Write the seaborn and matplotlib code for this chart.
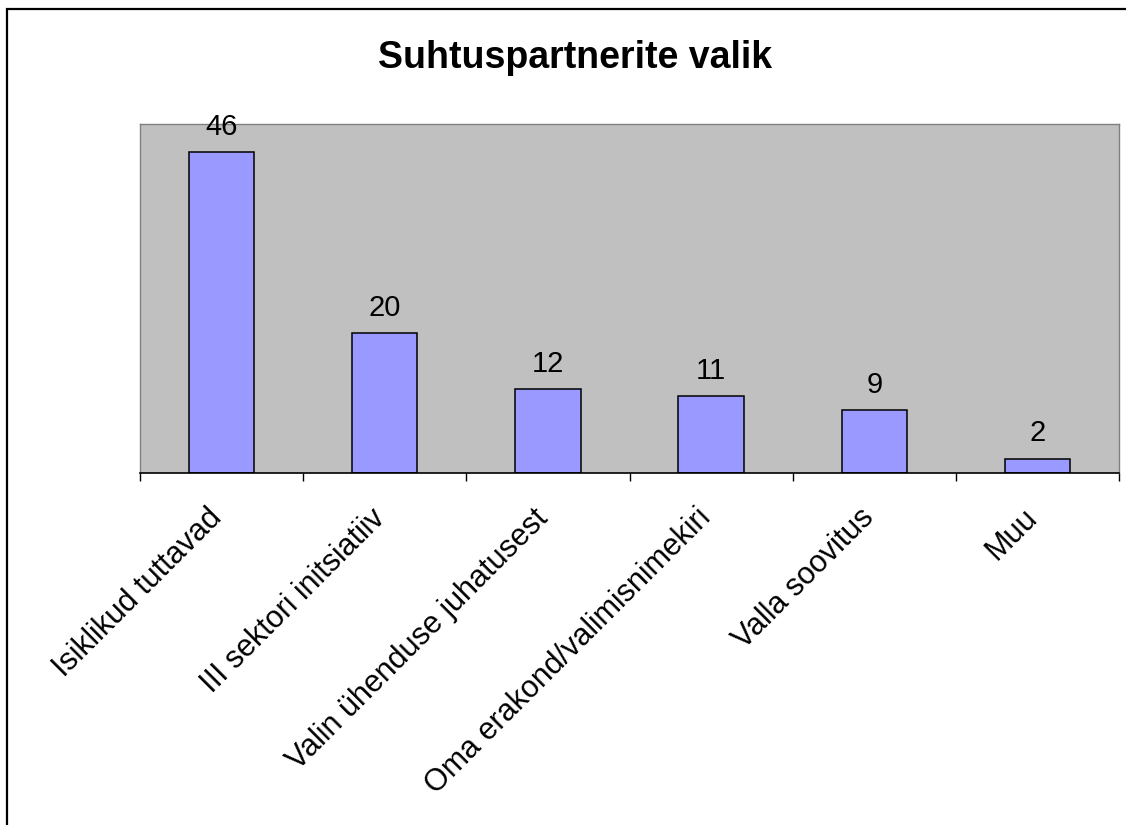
import numpy as np
import pandas as pd
import seaborn as sns
import matplotlib.pyplot as plt
import matplotlib.transforms as mtransforms
from matplotlib.patches import Rectangle

# =============================================================================
# Data
# =============================================================================

categories = [
    "Isiklikud tuttavad",
    "III sektori initsiatiiv",
    "Valin ühenduse juhatusest",
    "Oma erakond/valimisnimekiri",
    "Valla soovitus",
    "Muu",
]
counts = [46, 20, 12, 11, 9, 2]
title = "Suhtuspartnerite valik"

df = pd.DataFrame({"Kategooria": categories, "Arv": counts})

# =============================================================================
# Plot
# =============================================================================

sns.set_style("white")
plt.rcParams["font.family"] = ["Liberation Sans", "DejaVu Sans"]
plt.rcParams["text.color"] = "black"
plt.rcParams["xtick.color"] = "black"
plt.rcParams["xtick.labelcolor"] = "black"

fig = plt.figure(figsize=(11.26, 8.25), dpi=100)
ax = fig.add_axes([140 / 1126, 1 - 472.5 / 825, 979 / 1126, 348.5 / 825])

sns.barplot(
    data=df,
    x="Kategooria",
    y="Arv",
    order=categories,
    color="#9999FF",
    saturation=1,
    edgecolor="black",
    linewidth=1.1,
    width=0.4,
    ax=ax
)

ax.set_facecolor("#C0C0C0")
ax.set_ylim(0, 50)
ax.set_xlim(-0.5, len(categories) - 0.5)
ax.set_yticks([])
ax.set_xlabel("")
ax.set_ylabel("")

for side in ["top", "left", "right"]:
    ax.spines[side].set_color("#808080")
    ax.spines[side].set_linewidth(1)
ax.spines["bottom"].set_color("black")
ax.spines["bottom"].set_linewidth(1.2)

# category boundaries get the tick marks, labels sit at the centres
ax.set_xticks(np.arange(len(categories) + 1) - 0.5, minor=True)
ax.tick_params(axis="x", which="minor", length=6, width=1, color="black",
               direction="out", bottom=True)
ax.tick_params(axis="x", which="major", length=0, pad=22, labelsize=22)

ax.set_xticks(range(len(categories)))
ax.set_xticklabels(categories, rotation=45, ha="right", va="top",
                   rotation_mode="anchor", color="black")
shift = mtransforms.ScaledTranslation(-15 / 100, 0, fig.dpi_scale_trans)
for lbl in ax.get_xticklabels():
    lbl.set_transform(lbl.get_transform() + shift)

ax.bar_label(ax.containers[0], labels=[str(v) for v in counts],
             fontsize=21, padding=8, color="black")

fig.text(575 / 1126, 1 - 58 / 825, title, ha="center", va="center",
         fontsize=27, fontweight="bold", color="black")

# outer chart border
fig.patches.append(Rectangle((7 / 1126, -0.1), 1.2, (825 - 9) / 825 + 0.1,
                             transform=fig.transFigure, fill=False,
                             edgecolor="black", linewidth=1.6))

plt.savefig("out.png", dpi=100)
